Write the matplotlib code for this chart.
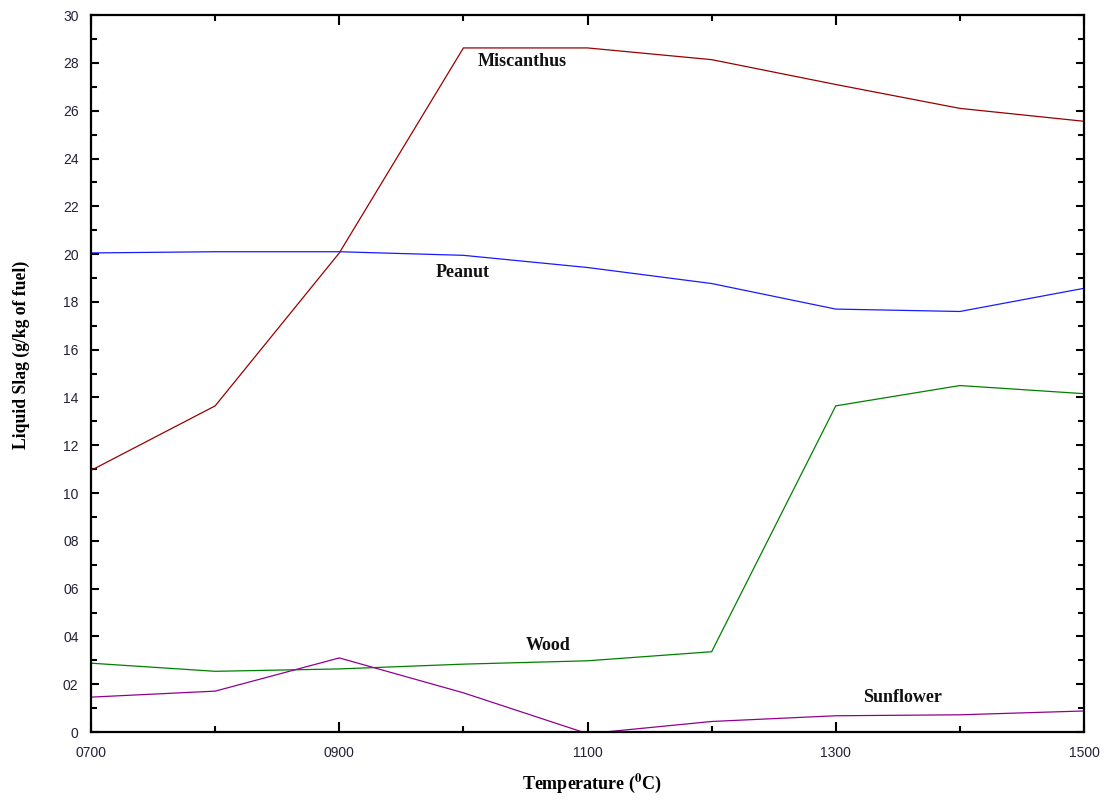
import matplotlib
matplotlib.use("Agg")
import matplotlib.pyplot as plt
from matplotlib.ticker import MultipleLocator, FixedLocator

# Liquid slag formed per kg of fuel versus temperature
temperature = [700, 800, 900, 1000, 1100, 1200, 1300, 1400, 1500]
miscanthus = [10.95, 13.65, 20.05, 28.63, 28.63, 28.14, 27.1, 26.1, 25.56]
peanut = [20.05, 20.1, 20.1, 19.95, 19.44, 18.77, 17.7, 17.6, 18.57]
wood = [2.88, 2.54, 2.64, 2.84, 2.98, 3.36, 13.65, 14.5, 14.16]
sunflower = [1.46, 1.71, 3.1, 1.64, -0.07, 0.44, 0.68, 0.72, 0.88]

series_names = ["Miscanthus", "Peanut", "Wood", "Sunflower"]
series_values = [miscanthus, peanut, wood, sunflower]
series_colors = ["#990000", "#1a1aff", "#008000", "#900090"]
label_anchor = [(1047, 28.05), (999, 19.25), (1068, 3.6), (1354, 1.45)]

x_major = [700, 900, 1100, 1300, 1500]
x_tick_labels = ["0700", "0900", "1100", "1300", "1500"]
y_major = list(range(0, 31, 2))
y_tick_labels = ["0", "02", "04", "06", "08"] + [str(v) for v in range(10, 31, 2)]

plt.rcParams["mathtext.fontset"] = "stix"

fig = plt.figure(figsize=(11.05, 8.0), dpi=100)
ax = fig.add_axes([0.0824, 0.085, 0.8986, 0.896])

for name, vals, col in zip(series_names, series_values, series_colors):
    ax.plot(temperature, vals, color=col, lw=0.9, solid_joinstyle="miter")

for name, (tx, ty) in zip(series_names, label_anchor):
    ax.text(tx, ty, name, ha="center", va="center", fontsize=13,
            fontweight="bold", family="Liberation Serif", color="#111111")

ax.set_xlim(700, 1500)
ax.set_ylim(0, 30)

ax.xaxis.set_major_locator(FixedLocator(x_major))
ax.xaxis.set_minor_locator(MultipleLocator(100))
ax.yaxis.set_major_locator(FixedLocator(y_major))
ax.yaxis.set_minor_locator(MultipleLocator(1))
ax.set_xticklabels(x_tick_labels)
ax.set_yticklabels(y_tick_labels)

ax.tick_params(which="both", direction="in", top=True, right=True,
               color="black", labelcolor="#202038", labelsize=10)
ax.tick_params(axis="x", which="major", length=7, width=1.5, pad=10)
ax.tick_params(axis="x", which="minor", length=4, width=1.5)
ax.tick_params(axis="y", which="major", length=6, width=1.5, pad=9)
ax.tick_params(axis="y", which="minor", length=4, width=1.5)
for lab in ax.get_xticklabels() + ax.get_yticklabels():
    lab.set_family("Liberation Sans")

for sp in ax.spines.values():
    sp.set_linewidth(1.6)
    sp.set_color("black")

ax.set_xlabel(r"Temperature ($\mathbf{^0}$C)", fontsize=13, fontweight="bold",
              family="Liberation Serif", va="center")
ax.set_ylabel("Liquid Slag (g/kg of fuel)", fontsize=12.7, fontweight="bold",
              family="Liberation Serif", va="center")
ax.xaxis.set_label_coords(0.5045, -0.071)
ax.yaxis.set_label_coords(-0.0705, 0.526)

fig.savefig("out.png", dpi=100)
